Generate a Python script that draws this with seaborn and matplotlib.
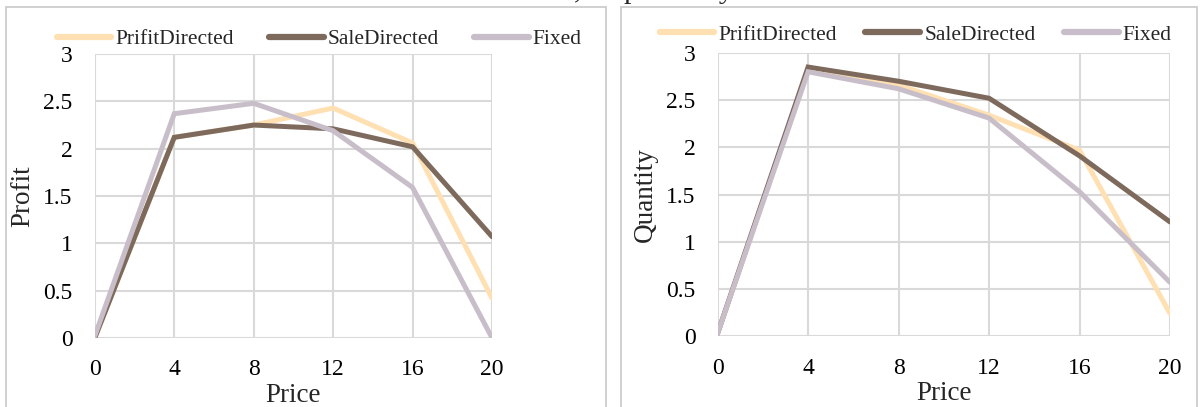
import matplotlib
matplotlib.use("Agg")
import matplotlib.pyplot as plt
from matplotlib.patches import Rectangle
from matplotlib.lines import Line2D
import seaborn as sns
import pandas as pd

price = [0, 4, 8, 12, 16, 20]
series_names = ["PrifitDirected", "SaleDirected", "Fixed"]
profit_profit_directed = [0.0, 2.12, 2.25, 2.43, 2.06, 0.42]
profit_sale_directed = [0.0, 2.12, 2.25, 2.21, 2.02, 1.07]
profit_fixed = [0.02, 2.37, 2.48, 2.19, 1.59, 0.0]
qty_profit_directed = [0.03, 2.81, 2.66, 2.34, 1.97, 0.24]
qty_sale_directed = [0.03, 2.85, 2.70, 2.52, 1.91, 1.21]
qty_fixed = [0.03, 2.80, 2.62, 2.31, 1.53, 0.57]
x_ticks = [0, 4, 8, 12, 16, 20]
y_ticks = [0, 0.5, 1, 1.5, 2, 2.5, 3]
y_tick_labels = ["0", "0.5", "1", "1.5", "2", "2.5", "3"]

colors = ["#FFE0B2", "#7E6A5D", "#C8BEC9"]

sns.set_theme(style="white")
plt.rcParams["font.family"] = ["Liberation Serif", "DejaVu Serif"]

def long_df(a, b, c):
    rows = []
    for name, vals in zip(series_names, [a, b, c]):
        for p, v in zip(price, vals):
            rows.append({"Price": p, "Value": v, "Series": name})
    return pd.DataFrame(rows)

fig = plt.figure(figsize=(12, 4.07), dpi=100)
ax1 = fig.add_axes([0.079, 0.170, 0.331, 0.697])
ax2 = fig.add_axes([0.598, 0.174, 0.377, 0.696])

# panel borders
fig.patches.append(Rectangle((6/1200, -0.1), 600/1200, 1.1 - 7/407, transform=fig.transFigure,
                             fill=False, edgecolor="#C8C8C8", lw=1.2, zorder=0))
fig.patches.append(Rectangle((621/1200, -0.1), 576/1200, 1.1 - 7/407, transform=fig.transFigure,
                             fill=False, edgecolor="#C8C8C8", lw=1.2, zorder=0))

legend_pos = {0: (0.565, 1.053), 1: (0.438, 1.064)}
legend_colsp = {0: 1.6, 1: 1.3}

for i, (ax, data, ylab) in enumerate([
        (ax1, long_df(profit_profit_directed, profit_sale_directed, profit_fixed), "Profit"),
        (ax2, long_df(qty_profit_directed, qty_sale_directed, qty_fixed), "Quantity")]):
    sns.lineplot(data=data, x="Price", y="Value", hue="Series", hue_order=series_names,
                 palette=colors, lw=3.6, ax=ax, legend=False, sort=False,
                 solid_capstyle="round", solid_joinstyle="miter", zorder=3)
    ax.set_xlim(0, 20)
    ax.set_ylim(0, 3)
    ax.set_xticks(x_ticks)
    ax.set_xticklabels([str(t) for t in x_ticks])
    ax.set_yticks(y_ticks)
    ax.set_yticklabels(y_tick_labels)
    ax.grid(True, color="#D9D9D9", lw=1.5, zorder=0)
    for s in ax.spines.values():
        s.set_visible(False)
    ax.tick_params(axis="both", labelsize=17, length=0, colors="black")
    ax.tick_params(axis="x", pad=15.5)
    ax.tick_params(axis="y", pad=16)
    ax.set_xlabel("Price", fontsize=19.5, labelpad=2)
    ax.set_ylabel(ylab, fontsize=19.5, labelpad=6)
    ax.set_facecolor("none")
    handles = [Line2D([0], [0], color=c, lw=4.5, solid_capstyle="round") for c in colors]
    ax.legend(handles, series_names, loc="center", bbox_to_anchor=legend_pos[i],
              ncol=3, frameon=False, fontsize=15.5, handlelength=2.55, handletextpad=0.2,
              columnspacing=legend_colsp[i], borderaxespad=0, borderpad=0)

# caption fragment clipped at the top edge (only descenders visible, as in the reference)
fig.text(574/1200, 1.0 + 2/407, ", respectively", ha="left", va="baseline", fontsize=21.6)

fig.savefig("out.png", dpi=100)
